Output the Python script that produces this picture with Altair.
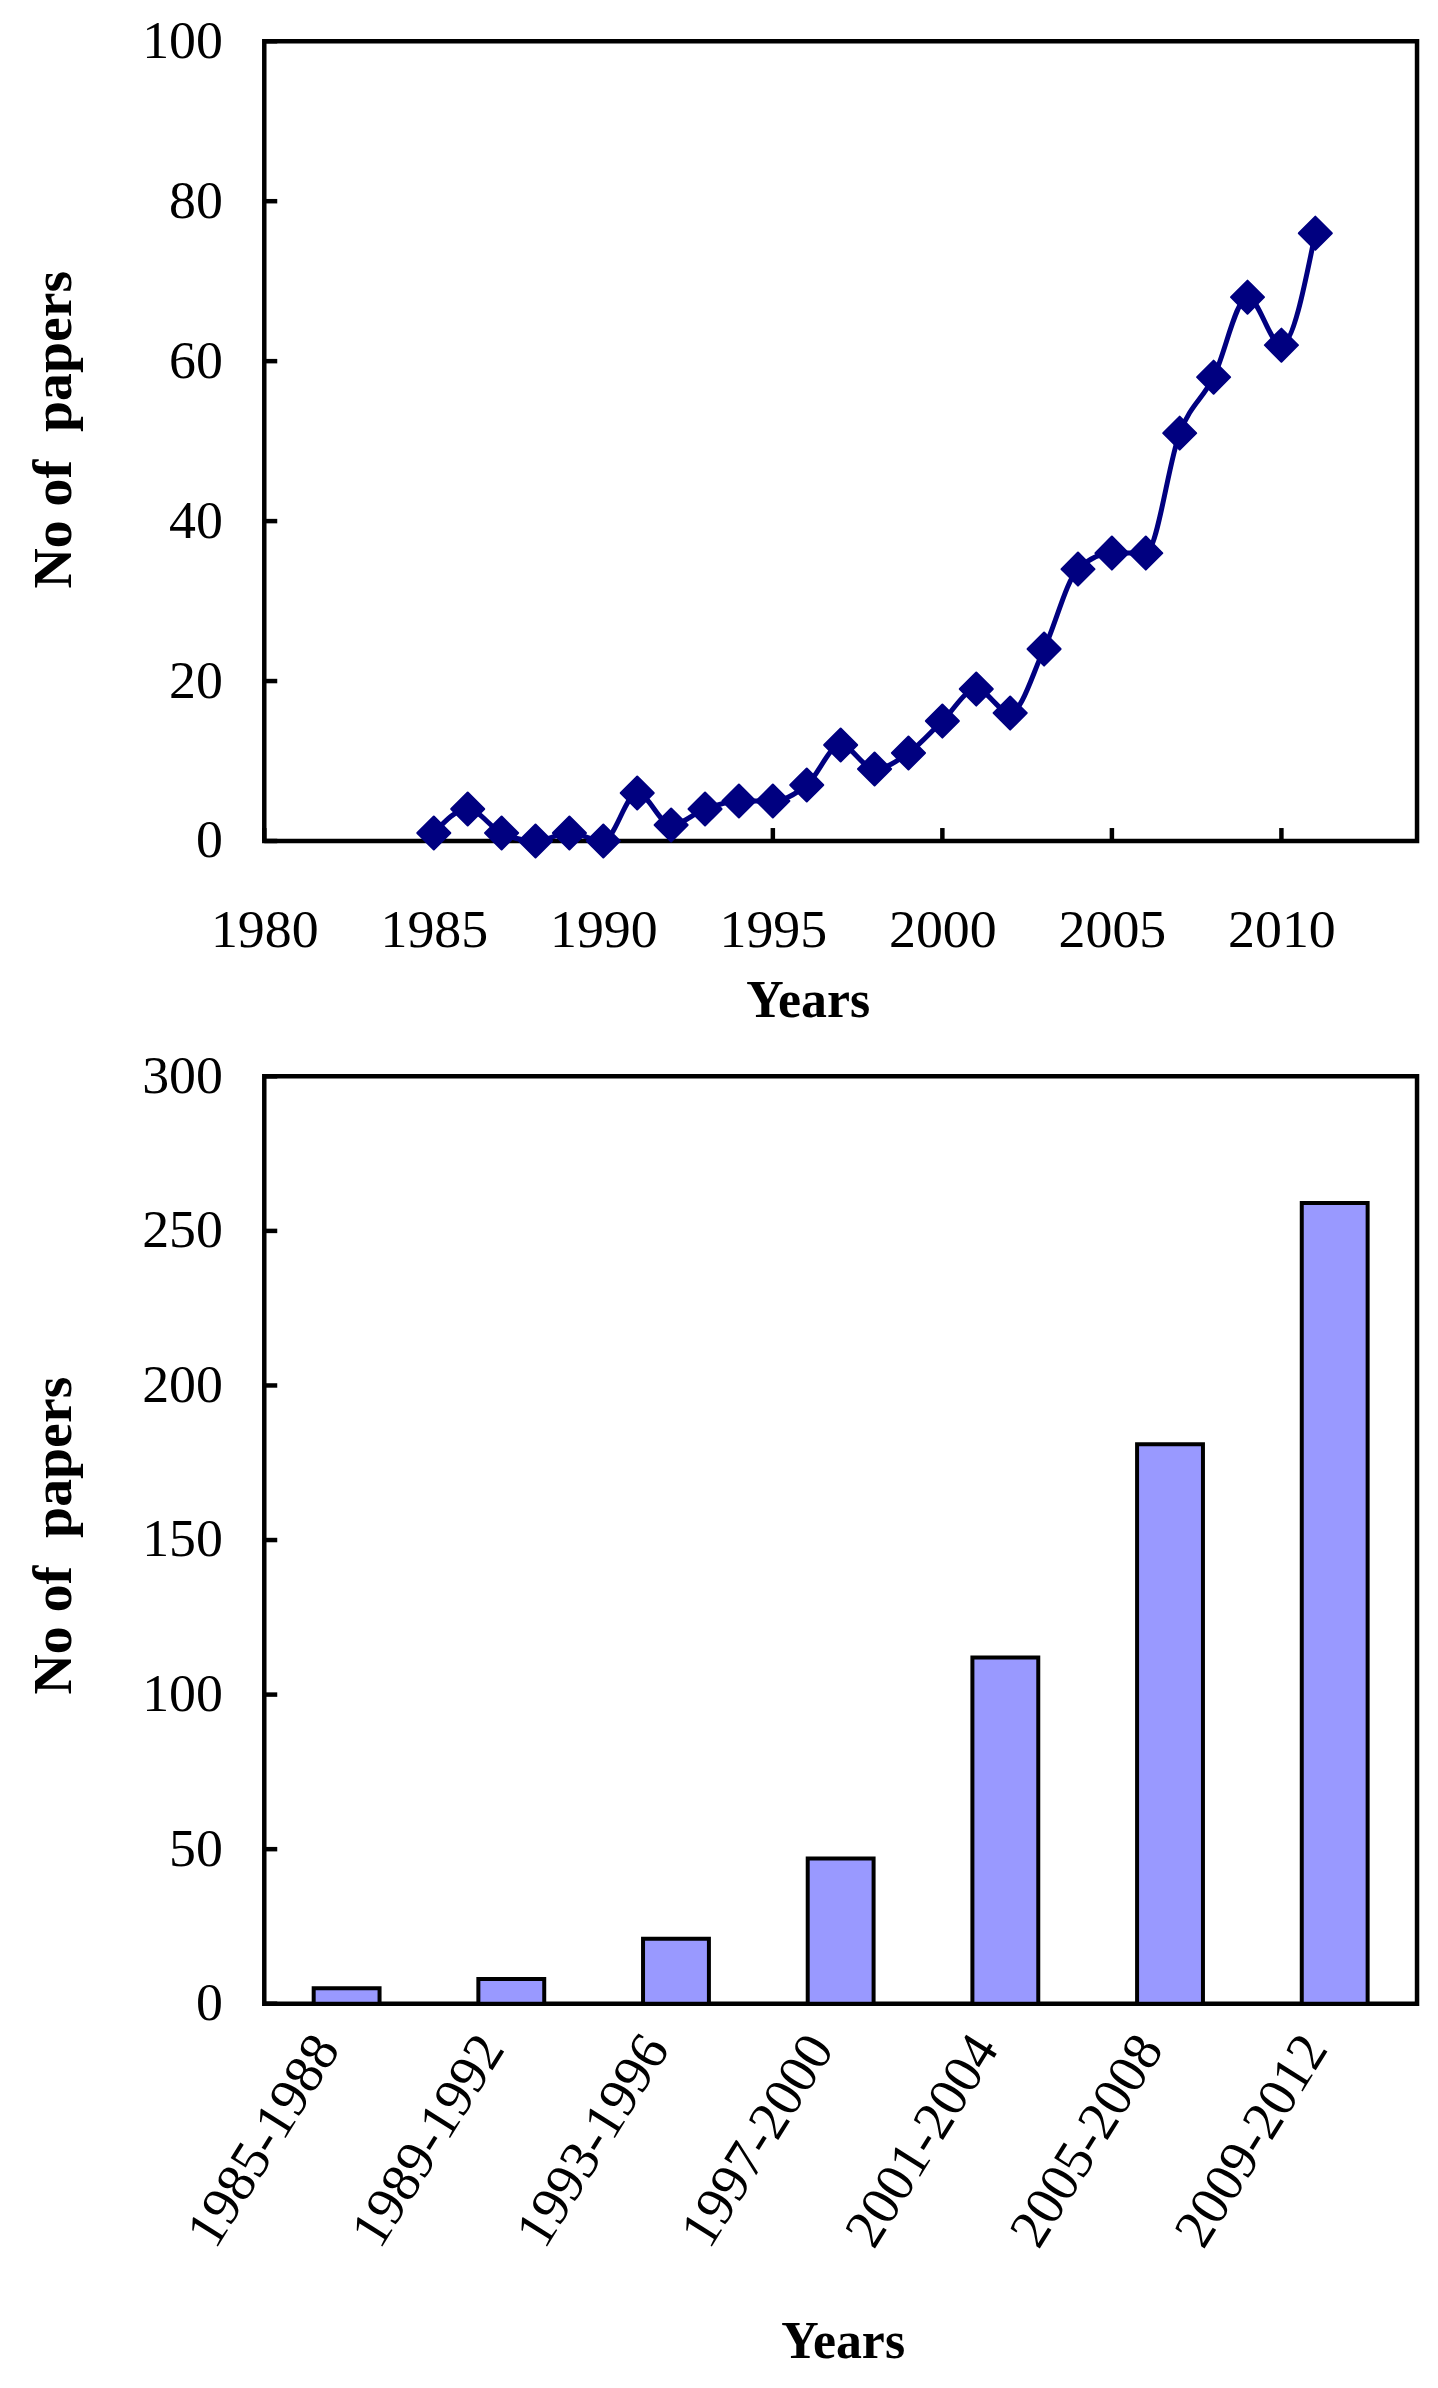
import altair as alt
import pandas as pd

# ---- data ----
years = list(range(1985, 2012))
papers = [1, 4, 1, 0, 1, 0, 6, 2, 4, 5, 5, 7, 12, 9, 11, 15, 19, 16, 24, 34,
          36, 36, 51, 58, 68, 62, 76]
x_ticks_top = [1980, 1985, 1990, 1995, 2000, 2005, 2010]
y_ticks_top = [0, 20, 40, 60, 80, 100]

periods = ["1985-1988", "1989-1992", "1993-1996", "1997-2000",
           "2001-2004", "2005-2008", "2009-2012"]
period_papers = [5, 8, 21, 47, 112, 181, 259]
y_ticks_bottom = [0, 50, 100, 150, 200, 250, 300]

FONT = "Liberation Serif"
W = 1156
H1 = 802
H2 = 930
TICK = 13
NAVY = "#000080"

line_df = pd.DataFrame({"year": years, "papers": papers})
bar_df = pd.DataFrame({"period": periods, "papers": period_papers})

xs = alt.Scale(domain=[1980, 2014], nice=False, zero=False)
ys1 = alt.Scale(domain=[0, 100], nice=False)
ys2 = alt.Scale(domain=[0, 300], nice=False)

title_y = "No of\u00a0 papers"

x_axis_top = alt.Axis(values=x_ticks_top, format="d", ticks=False, domain=False,
                      grid=False, labelFont=FONT, labelFontSize=54,
                      labelColor="black", labelPadding=106,
                      labelBaseline="alphabetic", labelFlush=False,
                      labelOverlap=False, labelLimit=0,
                      title="Years", titleFont=FONT, titleFontSize=52,
                      titleFontWeight="bold", titleColor="black",
                      titleX=545, titleY=176, titleBaseline="alphabetic",
                      titleAlign="center")

def y_axis(values, ty):
    return alt.Axis(values=values, ticks=False, domain=False, grid=False,
                    labelFont=FONT, labelFontSize=54, labelColor="black",
                    labelPadding=42, labelFlush=False, labelOverlap=False,
                    labelLimit=0,
                    title=title_y, titleFont=FONT, titleFontSize=56,
                    titleFontWeight="bold", titleColor="black",
                    titleX=-194, titleY=ty, titleAngle=270,
                    titleBaseline="alphabetic", titleAlign="center")

base_top = alt.Chart(line_df)
line = base_top.mark_line(color=NAVY, strokeWidth=5,
                          interpolate="monotone").encode(
    x=alt.X("year:Q", scale=xs, axis=x_axis_top),
    y=alt.Y("papers:Q", scale=ys1, axis=y_axis(y_ticks_top, 389)),
)
pts = base_top.mark_point(shape="diamond", filled=True, size=1100,
                          color=NAVY, stroke=NAVY, strokeWidth=2,
                          strokeJoin="round", opacity=1).encode(
    x=alt.X("year:Q", scale=xs),
    y=alt.Y("papers:Q", scale=ys1),
)
xt_df = pd.DataFrame({"t": x_ticks_top})
xticks = alt.Chart(xt_df).mark_rule(color="black", strokeWidth=4.5).encode(
    x=alt.X("t:Q", scale=xs),
    y=alt.value(H1 - TICK), y2=alt.value(H1),
)
yt_df = pd.DataFrame({"v": y_ticks_top})
yticks = alt.Chart(yt_df).mark_rule(color="black", strokeWidth=4.5).encode(
    y=alt.Y("v:Q", scale=ys1),
    x=alt.value(0), x2=alt.value(TICK),
)
top = alt.layer(xticks, yticks, line, pts).properties(width=W, height=H1)

bars = alt.Chart(bar_df).mark_bar(color="#9999FF", stroke="black",
                                  strokeWidth=4).encode(
    x=alt.X("period:N", sort=periods,
            scale=alt.Scale(paddingInner=0.6, paddingOuter=0.3),
            axis=alt.Axis(ticks=False, domain=False, grid=False,
                          labelFont=FONT, labelFontSize=55, labelColor="black",
                          labelAngle=302, labelAlign="right",
                          labelBaseline="middle", labelPadding=36,
                          labelOffset=-20,
                          labelLimit=0, labelOverlap=False,
                          title="Years", titleFont=FONT, titleFontSize=52,
                          titleFontWeight="bold", titleColor="black",
                          titleX=580, titleY=355, titleBaseline="alphabetic",
                          titleAlign="center")),
    y=alt.Y("papers:Q", scale=ys2, axis=y_axis(y_ticks_bottom, 460)),
)
yt2_df = pd.DataFrame({"v": y_ticks_bottom})
yticks2 = alt.Chart(yt2_df).mark_rule(color="black", strokeWidth=4.5).encode(
    y=alt.Y("v:Q", scale=ys2),
    x=alt.value(0), x2=alt.value(TICK),
)
bottom = alt.layer(bars, yticks2).properties(width=W, height=H2)

chart = alt.vconcat(top, bottom, spacing=17).properties(
    padding={"top": 0, "left": 15, "right": 10, "bottom": 10},
    background="white",
).configure_view(stroke="black", strokeWidth=4.5)

chart.save("out.html", embed_options={"renderer": "svg", "actions": False})
